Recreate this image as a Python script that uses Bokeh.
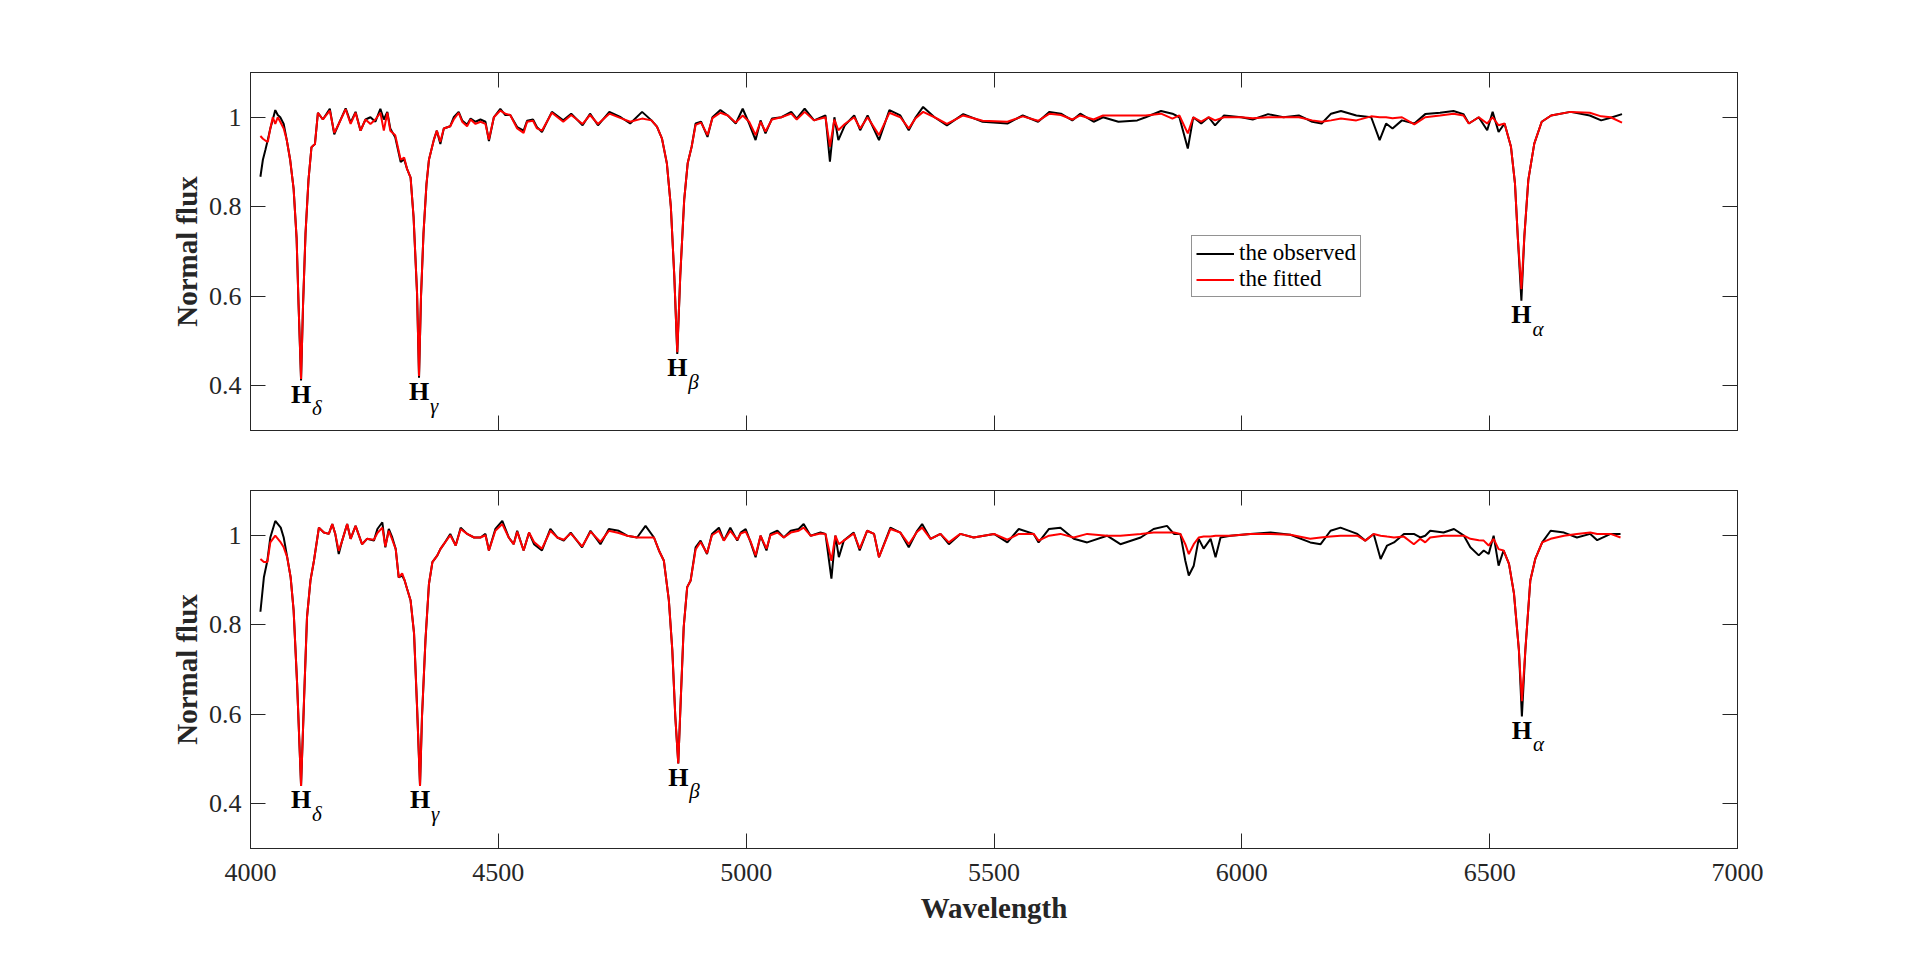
import numpy as np
from bokeh.plotting import figure
from bokeh.models import (Range1d, LinearAxis, FixedTicker, CustomJSTickFormatter,
                          Legend, LegendItem)
from bokeh.layouts import column
from bokeh.core.properties import value
from bokeh.embed import file_html
from bokeh.resources import INLINE

# ---------------- data ----------------
wl_top = [4020, 4025, 4030, 4035, 4040, 4045, 4050, 4055, 4060, 4067, 4073, 4080, 4087, 4093, 4097,
          4102, 4106, 4111, 4117, 4123, 4130, 4136, 4146, 4160, 4169, 4178, 4192, 4202, 4212, 4222,
          4232, 4242, 4252, 4262, 4269, 4276, 4282, 4292, 4303, 4310, 4316, 4323, 4329, 4336, 4340,
          4344, 4349, 4355, 4360, 4370, 4376, 4383, 4390, 4403, 4410, 4420, 4427, 4437, 4444, 4454,
          4464, 4474, 4481, 4491, 4504, 4514, 4524, 4538, 4551, 4558, 4570, 4578, 4588, 4608, 4631,
          4647, 4670, 4685, 4701, 4724, 4747, 4766, 4790, 4809, 4820, 4830, 4840, 4848, 4855, 4861,
          4867, 4875, 4882, 4890, 4898, 4909, 4922, 4932, 4948, 4963, 4979, 4993, 5006, 5019, 5029,
          5039, 5052, 5071, 5091, 5102, 5118, 5137, 5160, 5169, 5178, 5186, 5199, 5218, 5230, 5245,
          5268, 5289, 5311, 5328, 5342, 5357, 5380, 5405, 5438, 5477, 5527, 5558, 5589, 5612, 5635,
          5658, 5674, 5701, 5720, 5751, 5789, 5806, 5837, 5860, 5874, 5891, 5902, 5918, 5933, 5946,
          5964, 5999, 6022, 6053, 6084, 6115, 6142, 6161, 6180, 6200, 6231, 6261, 6278, 6291, 6304,
          6323, 6348, 6370, 6400, 6427, 6447, 6458, 6478, 6495, 6506, 6518, 6530, 6543, 6551, 6557,
          6564, 6570, 6578, 6590, 6605, 6624, 6663, 6702, 6725, 6744, 6767]
obs_top = [0.867, 0.905, 0.927, 0.950, 0.975, 0.995, 1.016, 1.005, 1.000, 0.985, 0.950, 0.905, 0.840, 0.730, 0.580,
           0.412, 0.580, 0.740, 0.860, 0.933, 0.940, 1.010, 0.995, 1.019, 0.962, 0.985, 1.020, 0.988, 1.012, 0.970,
           0.995, 1.000, 0.990, 1.019, 0.995, 1.012, 0.975, 0.955, 0.900, 0.906, 0.884, 0.865, 0.777, 0.607, 0.418,
           0.600, 0.740, 0.850, 0.905, 0.950, 0.970, 0.940, 0.975, 0.980, 1.000, 1.012, 0.993, 0.983, 0.997, 0.990,
           0.995, 0.990, 0.947, 1.000, 1.019, 1.005, 1.005, 0.978, 0.970, 0.992, 0.995, 0.978, 0.967, 1.012, 0.993,
           1.008, 0.982, 1.008, 0.982, 1.012, 1.000, 0.986, 1.012, 0.993, 0.979, 0.953, 0.897, 0.801, 0.645, 0.471,
           0.645, 0.816, 0.897, 0.934, 0.986, 0.990, 0.956, 1.000, 1.016, 1.004, 0.986, 1.019, 0.986, 0.949, 0.993,
           0.964, 0.997, 1.000, 1.012, 0.997, 1.019, 0.993, 1.004, 0.901, 1.000, 0.949, 0.982, 1.004, 0.971, 1.004,
           0.949, 1.016, 1.004, 0.971, 1.000, 1.023, 1.000, 0.982, 1.007, 0.990, 0.986, 1.004, 0.990, 1.012, 1.008,
           0.993, 1.008, 0.990, 1.000, 0.990, 0.993, 1.000, 1.014, 1.008, 1.000, 0.930, 1.000, 0.986, 1.000, 0.982,
           1.004, 1.000, 0.995, 1.007, 1.000, 1.004, 0.990, 0.986, 1.008, 1.014, 1.004, 1.000, 0.949, 0.986, 0.975,
           0.993, 0.986, 1.007, 1.010, 1.014, 1.007, 0.986, 1.000, 0.971, 1.012, 0.967, 0.986, 0.934, 0.853, 0.727,
           0.590, 0.734, 0.860, 0.941, 0.990, 1.004, 1.012, 1.004, 0.993, 0.999, 1.007]
fit_top = [0.958, 0.952, 0.948, 0.945, 0.975, 1.000, 0.985, 1.000, 0.990, 0.975, 0.950, 0.905, 0.840, 0.730, 0.580,
           0.415, 0.580, 0.740, 0.860, 0.933, 0.940, 1.010, 0.995, 1.015, 0.965, 0.985, 1.018, 0.985, 1.010, 0.970,
           0.995, 0.985, 0.995, 1.010, 0.970, 1.010, 0.970, 0.960, 0.905, 0.910, 0.884, 0.865, 0.777, 0.607, 0.422,
           0.600, 0.740, 0.850, 0.905, 0.950, 0.970, 0.945, 0.975, 0.980, 0.995, 1.010, 0.990, 0.980, 0.995, 0.985,
           0.990, 0.985, 0.950, 1.000, 1.015, 1.008, 1.005, 0.975, 0.965, 0.990, 0.992, 0.975, 0.970, 1.010, 0.990,
           1.005, 0.985, 1.005, 0.985, 1.008, 0.998, 0.990, 0.997, 0.993, 0.979, 0.953, 0.897, 0.801, 0.645, 0.475,
           0.645, 0.816, 0.897, 0.934, 0.983, 0.988, 0.960, 0.998, 1.010, 1.004, 0.988, 1.004, 0.990, 0.960, 0.990,
           0.968, 0.995, 1.000, 1.008, 0.995, 1.012, 0.993, 1.000, 0.934, 0.995, 0.971, 0.985, 1.000, 0.975, 1.000,
           0.960, 1.010, 1.000, 0.975, 0.998, 1.012, 1.000, 0.985, 1.004, 0.992, 0.990, 1.002, 0.992, 1.008, 1.005,
           0.995, 1.004, 0.995, 1.004, 1.004, 1.004, 1.004, 1.008, 0.997, 1.004, 0.964, 1.000, 0.990, 1.000, 0.993,
           1.000, 1.000, 0.998, 1.000, 1.000, 1.000, 0.993, 0.990, 0.993, 0.997, 0.993, 1.002, 1.000, 1.000, 0.998,
           1.000, 0.984, 1.000, 1.004, 1.008, 1.004, 0.986, 1.000, 0.986, 1.000, 0.982, 0.986, 0.934, 0.853, 0.727,
           0.616, 0.734, 0.860, 0.941, 0.990, 1.004, 1.012, 1.010, 1.002, 1.000, 0.988]

wl_bot = [4020, 4027, 4034, 4040, 4050, 4061, 4067, 4074, 4081, 4087, 4094, 4102, 4108, 4114, 4121,
          4128, 4138, 4148, 4158, 4165, 4171, 4178, 4185, 4195, 4202, 4212, 4225, 4235, 4249, 4256,
          4266, 4272, 4279, 4286, 4293, 4299, 4306, 4311, 4316, 4323, 4330, 4336, 4342, 4346, 4353,
          4360, 4367, 4377, 4383, 4390, 4403, 4414, 4424, 4437, 4451, 4464, 4474, 4481, 4494, 4508,
          4521, 4531, 4538, 4551, 4562, 4572, 4588, 4605, 4619, 4632, 4646, 4669, 4686, 4706, 4723,
          4743, 4760, 4780, 4797, 4814, 4824, 4834, 4844, 4851, 4857, 4863, 4868, 4874, 4881, 4888,
          4898, 4908, 4921, 4931, 4945, 4955, 4968, 4982, 4989, 4999, 5009, 5019, 5029, 5041, 5049,
          5063, 5076, 5090, 5106, 5116, 5130, 5150, 5160, 5172, 5180, 5187, 5197, 5217, 5229, 5244,
          5258, 5268, 5291, 5311, 5328, 5345, 5355, 5372, 5392, 5409, 5432, 5459, 5500, 5527, 5550,
          5580, 5590, 5611, 5634, 5661, 5688, 5728, 5755, 5796, 5822, 5849, 5863, 5876, 5886, 5893,
          5903, 5913, 5923, 5937, 5947, 5957, 5977, 6017, 6058, 6098, 6138, 6159, 6179, 6199, 6233,
          6249, 6266, 6280, 6293, 6307, 6327, 6347, 6360, 6370, 6380, 6407, 6428, 6448, 6461, 6478,
          6488, 6498, 6508, 6518, 6528, 6539, 6549, 6559, 6565, 6572, 6582, 6592, 6606, 6623, 6650,
          6676, 6703, 6717, 6744, 6764]
obs_bot = [0.829, 0.906, 0.943, 0.995, 1.032, 1.017, 0.995, 0.951, 0.906, 0.832, 0.669, 0.440, 0.632, 0.817, 0.899,
           0.943, 1.017, 1.006, 1.003, 1.025, 1.003, 0.958, 0.988, 1.025, 0.992, 1.021, 0.980, 0.992, 0.988, 1.014,
           1.029, 0.973, 1.014, 0.995, 0.969, 0.906, 0.910, 0.899, 0.880, 0.854, 0.780, 0.617, 0.440, 0.595, 0.766,
           0.891, 0.940, 0.955, 0.969, 0.980, 1.003, 0.977, 1.017, 1.003, 0.995, 0.995, 1.003, 0.966, 1.014, 1.032,
           0.995, 0.980, 1.010, 0.966, 1.006, 0.980, 0.966, 1.014, 0.995, 0.988, 1.006, 0.973, 1.010, 0.980, 1.014,
           1.010, 0.999, 0.995, 1.021, 0.995, 0.966, 0.943, 0.855, 0.743, 0.595, 0.490, 0.632, 0.795, 0.884, 0.899,
           0.973, 0.988, 0.958, 1.003, 1.017, 0.988, 1.017, 0.988, 1.006, 1.014, 0.984, 0.951, 0.999, 0.966, 1.003,
           1.010, 0.995, 1.010, 1.014, 1.025, 0.999, 1.006, 1.003, 0.903, 0.999, 0.951, 0.988, 1.006, 0.966, 1.010,
           1.003, 0.951, 1.017, 1.006, 0.973, 1.010, 1.025, 0.992, 1.003, 0.980, 1.003, 0.995, 1.003, 0.984, 1.014,
           1.003, 0.984, 1.014, 1.017, 0.992, 0.984, 0.999, 0.980, 0.995, 1.014, 1.021, 1.003, 1.003, 0.943, 0.910,
           0.932, 0.992, 0.970, 0.992, 0.951, 0.995, 0.999, 1.003, 1.006, 1.001, 0.984, 0.980, 1.010, 1.017, 1.003,
           0.988, 1.003, 0.947, 0.977, 0.984, 1.003, 1.003, 0.995, 0.999, 1.010, 1.006, 1.014, 0.999, 0.973, 0.955,
           0.966, 0.958, 0.999, 0.932, 0.966, 0.936, 0.870, 0.743, 0.595, 0.743, 0.899, 0.947, 0.984, 1.010, 1.006,
           0.995, 1.003, 0.989, 1.003, 1.003]
fit_bot = [0.947, 0.940, 0.940, 0.984, 0.999, 0.984, 0.973, 0.951, 0.906, 0.832, 0.669, 0.440, 0.632, 0.817, 0.899,
           0.943, 1.017, 1.006, 1.003, 1.025, 1.003, 0.965, 0.988, 1.025, 0.992, 1.021, 0.980, 0.992, 0.990, 1.005,
           1.017, 0.975, 1.010, 0.990, 0.969, 0.906, 0.915, 0.899, 0.880, 0.854, 0.780, 0.617, 0.440, 0.595, 0.766,
           0.891, 0.940, 0.955, 0.969, 0.980, 1.000, 0.977, 1.014, 1.003, 0.995, 0.995, 1.000, 0.966, 1.010, 1.025,
           0.995, 0.980, 1.008, 0.966, 1.006, 0.985, 0.970, 1.010, 0.995, 0.990, 1.004, 0.975, 1.008, 0.985, 1.010,
           1.005, 0.999, 0.995, 0.995, 0.995, 0.966, 0.943, 0.855, 0.743, 0.595, 0.490, 0.632, 0.795, 0.884, 0.899,
           0.968, 0.985, 0.960, 1.000, 1.010, 0.988, 1.010, 0.990, 1.004, 1.008, 0.986, 0.955, 0.999, 0.970, 1.000,
           1.006, 0.995, 1.006, 1.010, 1.017, 0.999, 1.004, 1.003, 0.943, 0.999, 0.980, 0.988, 1.004, 0.970, 1.010,
           1.003, 0.951, 1.014, 1.006, 0.980, 1.008, 1.017, 0.992, 1.003, 0.984, 1.003, 0.995, 1.003, 0.990, 1.003,
           1.003, 0.988, 0.999, 1.003, 0.995, 1.003, 0.999, 0.999, 1.003, 1.006, 1.006, 1.006, 1.003, 0.980, 0.958,
           0.980, 0.995, 0.997, 0.997, 0.999, 0.999, 0.999, 1.003, 1.003, 1.001, 0.992, 0.995, 0.997, 0.999, 0.999,
           0.988, 1.003, 0.999, 0.997, 0.995, 0.997, 0.980, 0.992, 0.984, 0.995, 0.999, 0.999, 0.999, 0.992, 0.989,
           0.988, 0.977, 0.992, 0.969, 0.966, 0.936, 0.870, 0.743, 0.629, 0.743, 0.899, 0.947, 0.984, 0.992, 0.999,
           1.003, 1.006, 1.003, 1.003, 0.995]

line_centers = [4102, 4340, 4861, 6563]
line_subs = ["\u03b4", "\u03b3", "\u03b2", "\u03b1"]
x_ticks = [4000, 4500, 5000, 5500, 6000, 6500, 7000]
y_ticks = [0.4, 0.6, 0.8, 1.0]
legend_labels = ["the observed", "the fitted"]

# ---------------- styling ----------------
SERIF = "Liberation Serif"
AX = "#262626"
FRAME_W, FRAME_H = 1487, 358


def style_axis(ax, labels=True):
    ax.axis_line_color = AX
    ax.axis_line_width = 1
    ax.major_tick_line_color = AX
    ax.major_tick_line_width = 1
    ax.major_tick_in = 15
    ax.major_tick_out = 0
    ax.minor_tick_line_color = None
    ax.major_label_text_font = SERIF
    ax.major_label_text_font_size = "26px"
    ax.major_label_text_color = AX
    if not labels:
        ax.formatter = CustomJSTickFormatter(code="return ''")
        ax.major_label_standoff = 0


def make_panel(wl, obs, fit, bottom, with_legend):
    p = figure(frame_width=FRAME_W, frame_height=FRAME_H,
               x_range=Range1d(4000, 7000), y_range=Range1d(0.3, 1.1),
               output_backend="svg", toolbar_location=None,
               min_border_left=250, min_border_right=150,
               min_border_top=30 if bottom else 72,
               min_border_bottom=90 if bottom else 30)
    p.xgrid.visible = False
    p.ygrid.visible = False
    p.outline_line_color = AX
    p.outline_line_width = 1
    p.background_fill_color = "white"

    xa = p.xaxis[0]
    ya = p.yaxis[0]
    xa.ticker = FixedTicker(ticks=x_ticks)
    ya.ticker = FixedTicker(ticks=y_ticks)
    style_axis(xa, labels=bottom)
    style_axis(ya)
    ya.formatter = CustomJSTickFormatter(code="return tick.toFixed(1).replace(/\\.0$/, '')")
    ya.major_label_standoff = 9
    xa.major_label_standoff = 15 if bottom else 0
    ya.axis_label = "Normal flux"
    ya.axis_label_text_font = SERIF
    ya.axis_label_text_font_style = "bold"
    ya.axis_label_text_font_size = "29px"
    ya.axis_label_text_color = AX
    ya.axis_label_standoff = 3
    if bottom:
        xa.axis_label = "Wavelength"
        xa.axis_label_text_font = SERIF
        xa.axis_label_text_font_style = "bold"
        xa.axis_label_text_font_size = "29px"
        xa.axis_label_text_color = AX
        xa.axis_label_standoff = 8

    ra = LinearAxis(ticker=FixedTicker(ticks=y_ticks))
    style_axis(ra, labels=False)
    p.add_layout(ra, "right")
    ta = LinearAxis(ticker=FixedTicker(ticks=x_ticks))
    style_axis(ta, labels=False)
    p.add_layout(ta, "above")

    r_obs = p.line(wl, obs, line_color="black", line_width=2)
    r_fit = p.line(wl, fit, line_color="red", line_width=2)

    # H line labels anchored at the observed minimum of each line
    wa = np.array(wl, dtype=float)
    oa = np.array(obs, dtype=float)
    lx, ly = [], []
    for c in line_centers:
        m = np.abs(wa - c) < 15
        i = np.argmin(np.where(m, oa, 9))
        lx.append(wa[i])
        ly.append(oa[i])
    p.text(x=lx, y=ly, text=["H"] * len(lx), text_font=value(SERIF),
           text_font_style="bold", text_font_size="26px", text_color="black",
           text_align="center", text_baseline="alphabetic", y_offset=14)
    p.text(x=lx, y=ly, text=line_subs, text_font=value(SERIF),
           text_font_style="italic", text_font_size="21px", text_color="black",
           text_align="left", text_baseline="alphabetic", x_offset=11, y_offset=28)

    if with_legend:
        leg = Legend(items=[LegendItem(label=legend_labels[0], renderers=[r_obs]),
                            LegendItem(label=legend_labels[1], renderers=[r_fit])],
                     location=(941, 133))
        leg.label_text_font = SERIF
        leg.label_text_font_size = "23px"
        leg.label_text_color = "black"
        leg.glyph_width = 38
        leg.glyph_height = 25
        leg.label_height = 25
        leg.label_standoff = 5
        leg.padding = 4
        leg.spacing = 0
        leg.margin = 0
        leg.border_line_color = AX
        leg.border_line_width = 1
        leg.background_fill_color = "white"
        leg.background_fill_alpha = 1
        p.add_layout(leg)
    return p


top = make_panel(wl_top, obs_top, fit_top, bottom=False, with_legend=True)
bot = make_panel(wl_bot, obs_bot, fit_bot, bottom=True, with_legend=False)
layout = column(top, bot, spacing=0)

open("out.html", "w").write(file_html(layout, INLINE))
